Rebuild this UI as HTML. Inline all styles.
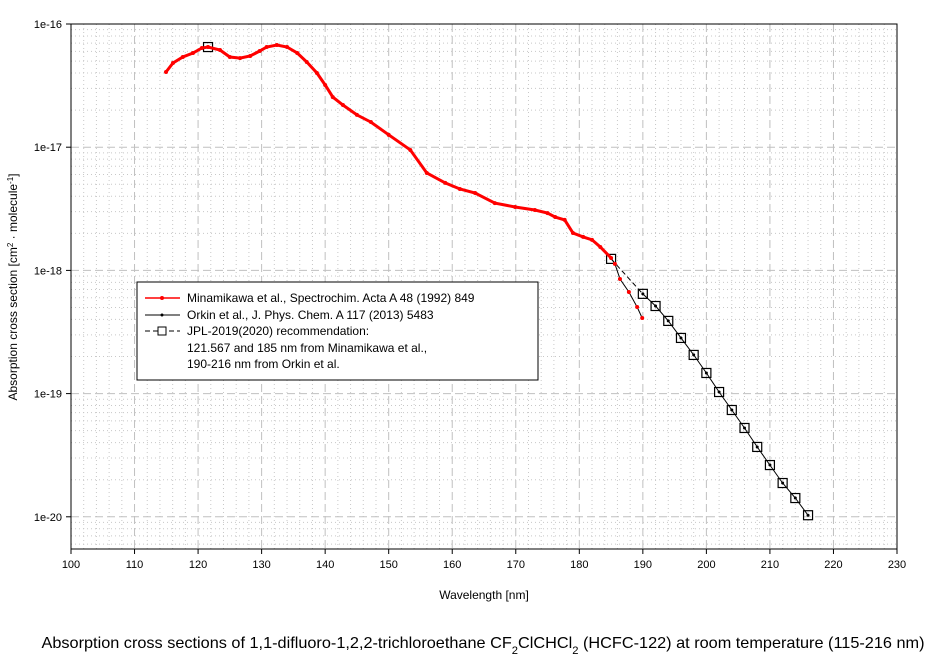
<!DOCTYPE html>
<html><head><meta charset="utf-8"><style>
body{margin:0;background:#fff;}
svg text{font-family:"Liberation Sans",Arial,sans-serif;}
</style></head><body>
<svg id="chart" width="940" height="660" xmlns="http://www.w3.org/2000/svg"></svg>
<script>
const minaX=[114.95,116.05,117.6,119.2,120.6,121.56,123.45,125.0,126.6,128.2,129.7,130.8,132.4,134.0,135.6,137.1,138.7,140.0,141.2,142.8,145.0,147.2,150,153.4,156,158.9,161.2,163.6,166.7,169.9,173,175,176.2,177.7,179,180.6,182,183.3,185,185.6,186.4,187.8,189.1,189.9];
const minaY=[4.08e-17,4.82e-17,5.40e-17,5.82e-17,6.38e-17,6.50e-17,6.15e-17,5.40e-17,5.29e-17,5.50e-17,6.04e-17,6.50e-17,6.76e-17,6.50e-17,5.82e-17,4.92e-17,4.00e-17,3.20e-17,2.55e-17,2.20e-17,1.83e-17,1.60e-17,1.26e-17,9.5e-18,6.18e-18,5.13e-18,4.58e-18,4.25e-18,3.52e-18,3.27e-18,3.09e-18,2.92e-18,2.71e-18,2.57e-18,2.01e-18,1.87e-18,1.77e-18,1.55e-18,1.26e-18,1.13e-18,8.51e-19,6.68e-19,5.05e-19,4.11e-19];
const orkinX=[190,192,194,196,198,200,202,204,206,208,210,212,214,216];
const orkinY=[6.45e-19,5.14e-19,3.89e-19,2.83e-19,2.06e-19,1.47e-19,1.03e-19,7.36e-20,5.26e-20,3.69e-20,2.63e-20,1.88e-20,1.42e-20,1.03e-20];
const jplX=[121.567,185,190,192,194,196,198,200,202,204,206,208,210,212,214,216];
const jplY=[6.5e-17,1.24e-18,6.45e-19,5.14e-19,3.89e-19,2.83e-19,2.06e-19,1.47e-19,1.03e-19,7.36e-20,5.26e-20,3.69e-20,2.63e-20,1.88e-20,1.42e-20,1.03e-20];
const xTicks=[100,110,120,130,140,150,160,170,180,190,200,210,220,230];
const yTicks=[-16,-17,-18,-19,-20];
const yTickLabels=["1e-16","1e-17","1e-18","1e-19","1e-20"];

const L=71,R=897,T=24,B=549,DEC=123.2;
const sx=v=>L+(v-100)*(R-L)/130;
const sy=v=>T+(-16-Math.log10(v))*DEC;
const syL=l=>T+(-16-l)*DEC;
const svg=document.getElementById('chart');
const NS='http://www.w3.org/2000/svg';
function mk(tag,attrs,parent){const e=document.createElementNS(NS,tag);for(const k in attrs)e.setAttribute(k,attrs[k]);(parent||svg).appendChild(e);return e;}

const grid=mk('g',{});


for(let v=102;v<230;v+=2){if(v%10===0)continue;mk('line',{x1:sx(v),x2:sx(v),y1:T,y2:B,stroke:'#c8c8c8','stroke-dasharray':'1,3'},grid);}
for(let v=110;v<230;v+=10){mk('line',{x1:sx(v),x2:sx(v),y1:T,y2:B,stroke:'#c0c0c0','stroke-dasharray':'8,4'},grid);}
for(let d=-21;d<=-17;d++){for(let m=2;m<=9;m++){const y=syL(d+Math.log10(m));if(y<T||y>B)continue;mk('line',{x1:L,x2:R,y1:y,y2:y,stroke:'#c8c8c8','stroke-dasharray':'1,3'},grid);}}
yTicks.forEach(l=>{if(l===-16)return;mk('line',{x1:L,x2:R,y1:syL(l),y2:syL(l),stroke:'#c0c0c0','stroke-dasharray':'8,4'},grid);});

const frame=mk('rect',{x:L,y:T,width:R-L,height:B-T,fill:'none',stroke:'#000','stroke-width':1});



const xa=mk('g',{});


xTicks.forEach(v=>{mk('line',{x1:sx(v),x2:sx(v),y1:B,y2:B+5,stroke:'#000'},xa);const t=mk('text',{x:sx(v),y:B+19,'font-size':11,'text-anchor':'middle'},xa);t.textContent=v;});
const ya=mk('g',{});


yTicks.forEach((l,i)=>{mk('line',{x1:L-5,x2:L,y1:syL(l),y2:syL(l),stroke:'#000'},ya);const t=mk('text',{x:L-9,y:syL(l)+4,'font-size':11,'text-anchor':'end'},ya);t.textContent=yTickLabels[i];});

const xt=mk('text',{x:484,y:599,'font-size':12,'text-anchor':'middle'});
xt.textContent='Wavelength [nm]';


const yt=mk('text',{x:17,y:287,'font-size':12,'text-anchor':'middle',transform:'rotate(-90 17 287)'});
yt.innerHTML='Absorption cross section [cm<tspan baseline-shift="super" font-size="8">2</tspan> · molecule<tspan baseline-shift="super" font-size="8">-1</tspan>]';



function pts(xs,ys){return xs.map((x,i)=>sx(x).toFixed(1)+','+sy(ys[i]).toFixed(1)).join(' ');}
const jg=mk('g',{});


mk('polyline',{points:pts(jplX.slice(1,3),jplY.slice(1,3)),fill:'none',stroke:'#000','stroke-dasharray':'5,3'},jg);
const og=mk('g',{});


mk('polyline',{points:pts(orkinX,orkinY),fill:'none',stroke:'#000','stroke-width':1},og);
orkinX.forEach((x,i)=>mk('circle',{cx:sx(x),cy:sy(orkinY[i]),r:1.5,fill:'#000'},og));
const mg=mk('g',{});


mk('polyline',{points:pts(minaX,minaY),fill:'none',stroke:'#000','stroke-width':1},mg);
mk('polyline',{points:pts(minaX.slice(0,39),minaY.slice(0,39)),fill:'none',stroke:'#f00','stroke-width':3},mg);
minaX.forEach((x,i)=>mk('circle',{cx:sx(x),cy:sy(minaY[i]),r:2,fill:'#f00'},mg));
jplX.forEach((x,i)=>{mk('rect',{x:sx(x)-4.5,y:sy(jplY[i])-4.5,width:9,height:9,fill:'none',stroke:'#000','stroke-width':1.2},jg);});

const lg=mk('g',{});


mk('rect',{x:137,y:282,width:401,height:98,fill:'#fff',stroke:'#000'},lg);
mk('line',{x1:145,x2:180,y1:298,y2:298,stroke:'#f00','stroke-width':1.5},lg);
mk('circle',{cx:162,cy:298,r:2,fill:'#f00'},lg);
mk('line',{x1:145,x2:180,y1:315,y2:315,stroke:'#000'},lg);
mk('circle',{cx:162,cy:315,r:1.5,fill:'#000'},lg);
mk('line',{x1:145,x2:180,y1:331,y2:331,stroke:'#000','stroke-dasharray':'5,3'},lg);
mk('rect',{x:158,y:327,width:8,height:8,fill:'#fff',stroke:'#000'},lg);
const lt=["Minamikawa et al., Spectrochim. Acta A 48 (1992) 849","Orkin et al., J. Phys. Chem. A 117 (2013) 5483","JPL-2019(2020) recommendation:","121.567 and 185 nm from Minamikawa et al.,","190-216 nm from Orkin et al."];
const ly=[302,319,335,352,368];
lt.forEach((s,i)=>{const t=mk('text',{x:187,y:ly[i],'font-size':12},lg);t.textContent=s;});

const title=mk('text',{x:483,y:648,'font-size':16,'text-anchor':'middle',textLength:883,lengthAdjust:'spacingAndGlyphs'});
title.innerHTML='Absorption cross sections of 1,1-difluoro-1,2,2-trichloroethane CF<tspan baseline-shift="sub" font-size="11">2</tspan>ClCHCl<tspan baseline-shift="sub" font-size="11">2</tspan> (HCFC-122) at room temperature (115-216 nm)';


</script>
</body></html>
